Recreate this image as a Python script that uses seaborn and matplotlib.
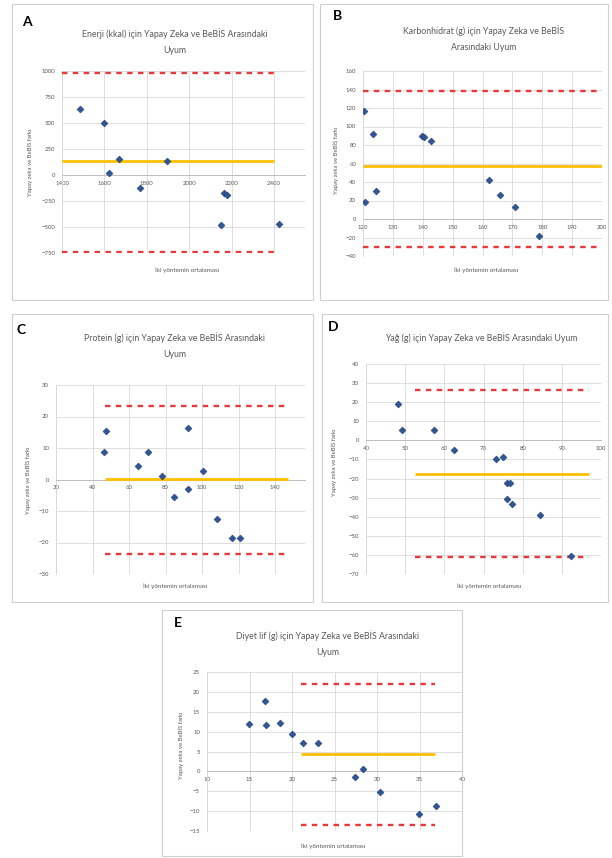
import matplotlib
matplotlib.use("Agg")
import matplotlib.pyplot as plt
import seaborn as sns
import numpy as np
from matplotlib.patches import Rectangle

# ---------------- data ----------------
# A: Enerji (kkal)
A_mean = [1485, 1596, 1667, 1624, 1893, 1770, 2164, 2180, 2152, 2422]
A_diff = [632, 497, 154, 16, 135, -122, -170, -192, -481, -474]
A_bias, A_upper, A_lower = 138, 985, -737
A_span = [1400, 2400]

# B: Karbonhidrat (g)
B_mean = [120.4, 123.4, 139.7, 140.5, 142.6, 124.5, 120.7, 162.1, 165.8, 171.0, 178.9]
B_diff = [116.8, 91.6, 90.1, 88.3, 84.3, 30.3, 18.1, 42.2, 26.3, 13.3, -18.4]
B_bias, B_upper, B_lower = 57, 138, -30
B_span = [120, 200]

# C: Protein (g)
C_mean = [46.3, 47.4, 65.1, 70.6, 77.9, 84.7, 92.2, 92.5, 100.7, 108.4, 116.6, 120.8]
C_diff = [8.6, 15.4, 4.4, 8.6, 1.0, -5.7, -2.9, 16.5, 2.6, -12.6, -18.5, -18.5]
C_bias, C_upper, C_lower = 0.2, 23.4, -23.5
C_span = [47, 147]

# D: Yağ (g)
D_mean = [48.1, 49.3, 57.3, 62.5, 73.1, 75.0, 75.9, 76.7, 75.9, 77.2, 84.3, 92.3]
D_diff = [18.9, 5.6, 5.6, -4.9, -9.6, -8.8, -22.3, -22.3, -30.7, -33.3, -39.1, -60.5]
D_bias, D_upper, D_lower = -17.5, 26.3, -61
D_span = [52.5, 97]

# E: Diyet lif (g)
E_mean = [14.9, 16.8, 16.9, 18.6, 20.0, 21.3, 23.1, 27.4, 28.4, 30.3, 34.9, 36.9]
E_diff = [11.85, 17.7, 11.7, 12.25, 9.35, 7.1, 7.25, -1.3, 0.6, -5.25, -10.65, -8.8]
E_bias, E_upper, E_lower = 4.4, 22.1, -13.6
E_span = [21, 36.8]

titles = [
    "Enerji (kkal) için Yapay Zeka ve BeBİS Arasındaki\nUyum",
    "Karbonhidrat (g) için Yapay Zeka ve BeBİS\nArasındaki Uyum",
    "Protein (g) için Yapay Zeka ve BeBİS Arasındaki\nUyum",
    "Yağ (g) için Yapay Zeka ve BeBİS Arasındaki Uyum",
    "Diyet lif (g) için Yapay Zeka ve BeBİS Arasındaki\nUyum",
]
letters = ["A", "B", "C", "D", "E"]
ylab = "Yapay zeka ve BeBİS farkı"
xlab = "İki yöntemin ortalaması"

# ---------------- drawing ----------------
sns.set_theme(style="white")
plt.rcParams["font.family"] = ["Lato", "DejaVu Sans"]

W, H = 612, 858
fig = plt.figure(figsize=(W / 100, H / 100), dpi=100)
fig.patch.set_facecolor("white")


def ax_at(x0, y0, x1, y1):
    return fig.add_axes([x0 / W, 1 - y1 / H, (x1 - x0) / W, (y1 - y0) / H])


def box(x0, y0, x1, y1):
    fig.add_artist(Rectangle((x0 / W, 1 - y1 / H), (x1 - x0) / W, (y1 - y0) / H,
                             transform=fig.transFigure, fill=False,
                             ec="#D0D0D0", lw=0.8))


def txt(x, y, s, **kw):
    fig.text(x / W, 1 - y / H, s, **kw)


RED = "#E8383B"
YEL = "#FFC000"
BLUE = "#2F5597"


def draw(ax, mx, diff, bias, upper, lower, span, xlim, ylim, xticks, yticks):
    ax.set_xlim(xlim)
    ax.set_ylim(ylim)
    ax.set_xticks(xticks)
    ax.set_yticks(yticks)
    ax.grid(True, color="#D9D9D9", lw=0.6)
    ax.set_axisbelow(True)
    for s in ["top", "right"]:
        ax.spines[s].set_visible(False)
    ax.spines["left"].set_color("#D9D9D9")
    ax.spines["left"].set_linewidth(0.6)
    ax.spines["bottom"].set_position(("data", 0))
    ax.spines["bottom"].set_color("#BFBFBF")
    ax.spines["bottom"].set_linewidth(0.7)
    ax.hlines([upper, lower], span[0], span[1], colors=RED,
              linestyles=[(0, (2.3, 2.3))], lw=1.7, zorder=3)
    ax.hlines(bias, span[0], span[1], colors=YEL, lw=2.0, zorder=3)
    sns.scatterplot(x=mx, y=diff, ax=ax, marker="D", s=13, color=BLUE,
                    edgecolor="#1F3864", linewidth=0.3, zorder=5)
    ax.tick_params(axis="both", labelsize=4.3, colors="#595959", length=0)
    ax.tick_params(axis="x", pad=4)
    ax.tick_params(axis="y", pad=5)
    ax.set_xlabel("")
    ax.set_ylabel("")


# panel borders
box(12, 4, 313, 300)
box(320, 4, 608, 300)
box(12, 314, 313, 602)
box(322, 314, 608, 602)
box(162, 610, 462, 856)

# A
axA = ax_at(62, 71, 305, 253)
draw(axA, A_mean, A_diff, A_bias, A_upper, A_lower, A_span,
     (1400, 2546), (-750, 1000), np.arange(1400, 2401, 200), np.arange(-750, 1001, 250))
# B
axB = ax_at(363, 71, 602, 256)
draw(axB, B_mean, B_diff, B_bias, B_upper, B_lower, B_span,
     (120, 200), (-40, 160), np.arange(120, 201, 10), np.arange(-40, 161, 20))
# C
axC = ax_at(56, 385, 305, 574)
draw(axC, C_mean, C_diff, C_bias, C_upper, C_lower, C_span,
     (20, 156.4), (-30, 30), np.arange(20, 141, 20), np.arange(-30, 31, 10))
# D
axD = ax_at(366, 364, 601, 574)
draw(axD, D_mean, D_diff, D_bias, D_upper, D_lower, D_span,
     (40, 100), (-70, 40), np.arange(40, 101, 10), np.arange(-70, 41, 10))
# E
axE = ax_at(207, 672, 462, 831)
draw(axE, E_mean, E_diff, E_bias, E_upper, E_lower, E_span,
     (10, 40), (-15, 25), np.arange(10, 41, 5), np.arange(-15, 26, 5))

# titles
tkw = dict(ha="center", va="center", fontsize=6.3, color="#595959", linespacing=2.0)
txt(175, 42, titles[0], **tkw)
txt(484, 39, titles[1], **tkw)
txt(175, 346, titles[2], **tkw)
txt(481, 338, titles[3], **tkw)
txt(328, 644, titles[4], **tkw)

# panel letters
lkw = dict(ha="center", va="center", fontsize=10, fontweight="bold", color="black")
txt(27, 22, letters[0], **lkw)
txt(338, 16, letters[1], **lkw)
txt(21, 330, letters[2], **lkw)
txt(333, 327, letters[3], **lkw)
txt(178, 623, letters[4], **lkw)

# axis titles
ykw = dict(ha="center", va="center", rotation=90, fontsize=4.3, color="#595959")
txt(30, 162, ylab, **ykw)
txt(336, 160, ylab, **ykw)
txt(28, 480, ylab, **ykw)
txt(334, 462, ylab, **ykw)
txt(181, 745, ylab, **ykw)

xkw = dict(ha="center", va="center", fontsize=4.5, color="#595959")
txt(187, 270, xlab, **xkw)
txt(486, 270, xlab, **xkw)
txt(175, 586, xlab, **xkw)
txt(489, 586, xlab, **xkw)
txt(333, 846, xlab, **xkw)

fig.savefig("out.png", dpi=100, facecolor="white")
